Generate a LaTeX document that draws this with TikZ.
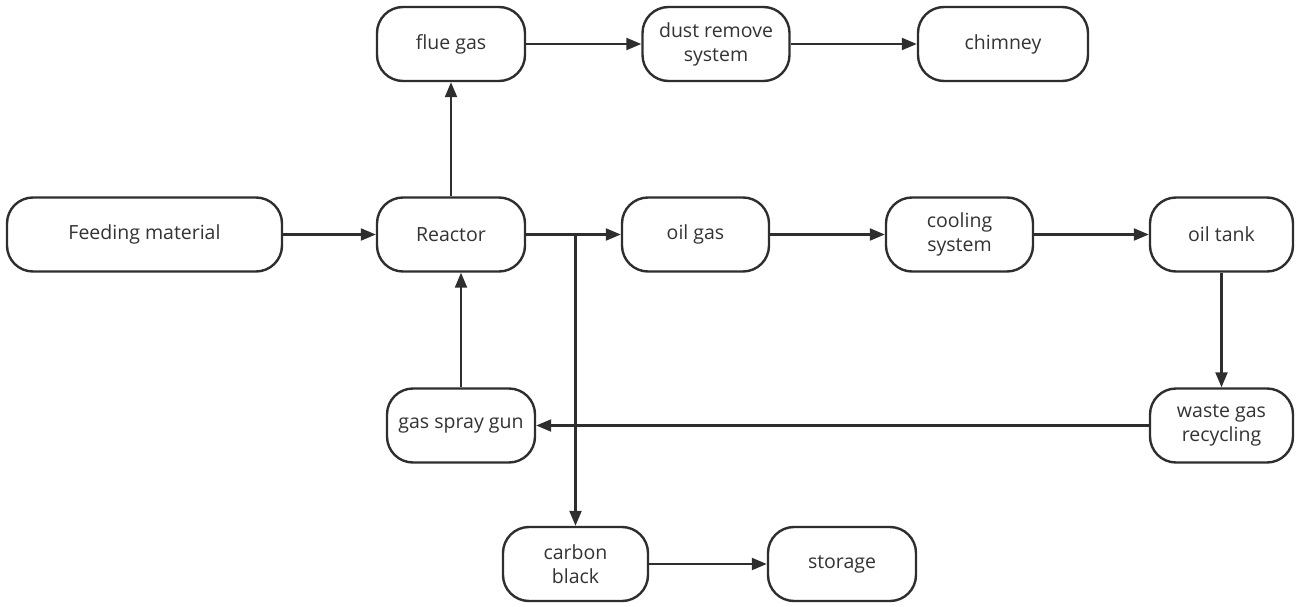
\documentclass[tikz,border=0pt]{standalone}
\usepackage{fontspec}
\setmainfont{Open Sans}
\usetikzlibrary{arrows.meta}
\definecolor{ink}{HTML}{2E2E2E}
\definecolor{txt}{HTML}{333333}
\begin{document}
\begin{tikzpicture}[x=1pt,y=-1pt,
  proc/.style={draw=ink,line width=2.4pt,rounded corners=26pt,fill=white,
    minimum height=74pt,inner sep=0pt,align=center,text=txt,
    font=\fontsize{19.5}{24}\selectfont},
  flow/.style={draw=ink,line width=2.2pt,-{Triangle[length=15pt,width=12pt]}}]
\useasboundingbox (0,0) rectangle (1303,607);
\node[proc,minimum width=148pt] (flue) at (451,44) {flue gas};
\node[proc,minimum width=147pt] (dust) at (716,44) {dust remove\\system};
\node[proc,minimum width=170pt] (chim) at (1003,44) {chimney};
\node[proc,minimum width=275pt] (feed) at (144.5,234.5) {Feeding material};
\node[proc,minimum width=148pt] (reac) at (451,234.5) {Reactor};
\node[proc,minimum width=147pt] (oilg) at (695.5,234.5) {oil gas};
\node[proc,minimum width=147pt] (cool) at (959.5,234.5) {cooling\\system};
\node[proc,minimum width=143pt] (tank) at (1221.5,234.5) {oil tank};
\node[proc,minimum width=148pt] (gun) at (461,425.5) {gas spray gun};
\node[proc,minimum width=143pt] (waste) at (1221.5,425.5) {waste gas\\recycling};
\node[proc,minimum width=145pt] (cb) at (575.5,564) {carbon\\black};
\node[proc,minimum width=148pt] (stor) at (842,564) {storage};
\draw[flow] (feed) -- (reac);
\draw[flow] (reac) -- (flue);
\draw[flow] (flue) -- (dust);
\draw[flow] (dust) -- (chim);
\draw[flow] (reac) -- (oilg);
\coordinate (branch) at (reac.east -| cb.north);
\draw[flow] (branch) -- (cb.north);
\draw[flow] (oilg) -- (cool);
\draw[flow] (cool) -- (tank);
\draw[flow] (tank) -- (waste);
\draw[flow] (waste) -- (gun);
\draw[flow] (gun.north) -- (gun.north |- reac.south);
\draw[flow] (cb) -- (stor);
\end{tikzpicture}
\end{document}
